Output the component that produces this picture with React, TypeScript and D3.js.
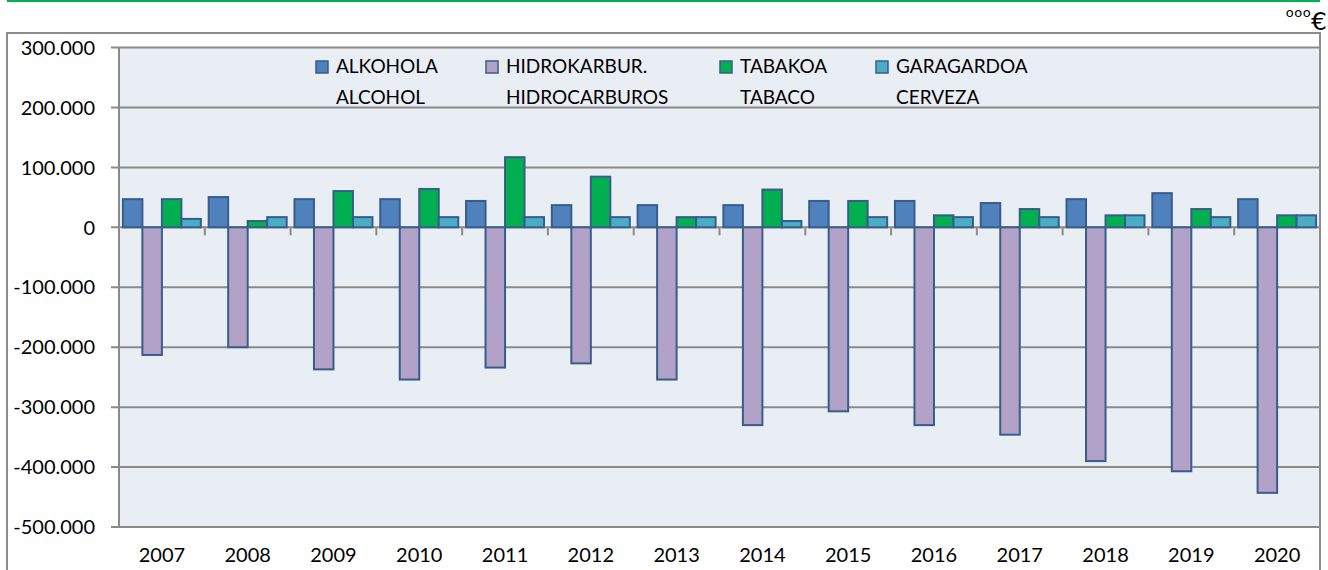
import React from "react";
import * as d3 from "d3";

const years = ["2007", "2008", "2009", "2010", "2011", "2012", "2013", "2014", "2015", "2016", "2017", "2018", "2019", "2020"];
const alkohola = [47000, 50500, 47000, 47000, 44000, 37000, 37000, 37000, 44000, 44000, 40500, 47000, 57000, 47000];
const hidrokarburoak = [-213000, -200000, -237000, -254000, -234000, -227000, -254000, -330000, -307000, -330000, -346000, -390000, -407000, -443000];
const tabakoa = [47000, 10500, 60500, 64000, 117000, 84500, 17000, 63000, 44000, 20000, 30500, 20000, 30500, 20000];
const garagardoa = [14000, 17000, 17000, 17000, 17000, 17000, 17000, 10500, 17000, 17000, 17000, 20000, 17000, 20000];
const yTicks = [300000, 200000, 100000, 0, -100000, -200000, -300000, -400000, -500000];

const series = [
  { key: "alk", line1: "ALKOHOLA", line2: "ALCOHOL", values: alkohola, fill: "#4f81bd", lx: 316 },
  { key: "hid", line1: "HIDROKARBUR.", line2: "HIDROCARBUROS", values: hidrokarburoak, fill: "#b3a2c7", lx: 486 },
  { key: "tab", line1: "TABAKOA", line2: "TABACO", values: tabakoa, fill: "#00b050", lx: 720 },
  { key: "gar", line1: "GARAGARDOA", line2: "CERVEZA", values: garagardoa, fill: "#4bacc6", lx: 876 },
];

const fmt = d3.formatLocale({ decimal: ",", thousands: ".", grouping: [3], currency: ["", "€"], minus: "-" }).format(",.0f");

export default function App() {
  const width = 1328,
    height = 570;
  const plot = { left: 119, right: 1320, top: 47.5, bottom: 527 };
  const font = "Lato, 'Open Sans', sans-serif";

  const x = d3.scaleBand().domain(years).range([plot.left, plot.right]).padding(0);
  const bw = x.bandwidth();
  const barW = bw / 4.4;
  const x1 = d3
    .scaleBand()
    .domain(series.map((s) => s.key))
    .range([bw * 0.2 / 4.4, bw * 0.2 / 4.4 + barW * 4])
    .padding(0);

  const y = d3.scaleLinear().domain([-500000, 300000]).range([plot.bottom, plot.top]);
  const y0 = y(0);

  return (
    <svg width={width} height={height} style={{ position: "absolute", left: 0, top: 0, background: "#fff" }}>
      {/* top green rule */}
      <line x1={7} x2={1320} y1={1} y2={1} stroke="#00b050" strokeWidth={2} />
      <text x={1327} y={30} textAnchor="end" fontFamily="'DejaVu Sans', sans-serif" fill="#000">
        <tspan fontSize={13} dy={-13} letterSpacing={0.5}>ooo</tspan>
        <tspan fontSize={25} dy={13}>€</tspan>
      </text>

      {/* outer frame */}
      <rect x={7} y={33} width={1313} height={600} fill="#fff" stroke="#8c8c8c" strokeWidth={2} />

      {/* plot area */}
      <rect x={plot.left} y={plot.top} width={plot.right - plot.left} height={plot.bottom - plot.top} fill="#e9edf4" />

      {/* gridlines + y ticks */}
      {yTicks.map((t) => (
        <g key={t}>
          <line x1={plot.left - 8} x2={plot.right} y1={y(t)} y2={y(t)} stroke="#8a8a8a" strokeWidth={2} />
          <text x={95} y={y(t)} dy="0.36em" textAnchor="end" fontFamily={font} fontSize={20} fill="#000">
            {fmt(t)}
          </text>
        </g>
      ))}
      <line x1={plot.left} x2={plot.left} y1={plot.top} y2={plot.bottom} stroke="#8a8a8a" strokeWidth={2} />
      <line x1={plot.right} x2={plot.right} y1={33} y2={570} stroke="#8c8c8c" strokeWidth={2} />

      {/* category ticks on zero line */}
      {years.slice(1).map((yr) => (
        <line key={yr} x1={x(yr)} x2={x(yr)} y1={y0} y2={y0 + 8} stroke="#8a8a8a" strokeWidth={2} />
      ))}

      {/* bars */}
      {series.map((s) => (
        <g key={s.key}>
          {s.values.map((v, i) => {
            const bx = (x(years[i]) as number) + (x1(s.key) as number);
            const top = Math.min(y(v), y0);
            const h = Math.abs(y(v) - y0);
            return (
              <rect key={i} x={bx} y={top} width={x1.bandwidth()} height={h} fill={s.fill} stroke="#385d8a" strokeWidth={2} />
            );
          })}
        </g>
      ))}

      {/* year labels */}
      {years.map((yr) => (
        <text key={yr} x={(x(yr) as number) + bw / 2} y={562} textAnchor="middle" fontFamily={font} fontSize={20} fill="#000">
          {yr}
        </text>
      ))}

      {/* legend */}
      {series.map((s) => (
        <g key={s.key}>
          <rect x={s.lx} y={61} width={12} height={12} fill={s.fill} stroke="#385d8a" strokeWidth={1.5} />
          <text x={s.lx + 20} y={73} fontFamily={font} fontSize={19} fill="#000">
            {s.line1}
          </text>
          <text x={s.lx + 20} y={104} fontFamily={font} fontSize={19} fill="#000">
            {s.line2}
          </text>
        </g>
      ))}
    </svg>
  );
}
